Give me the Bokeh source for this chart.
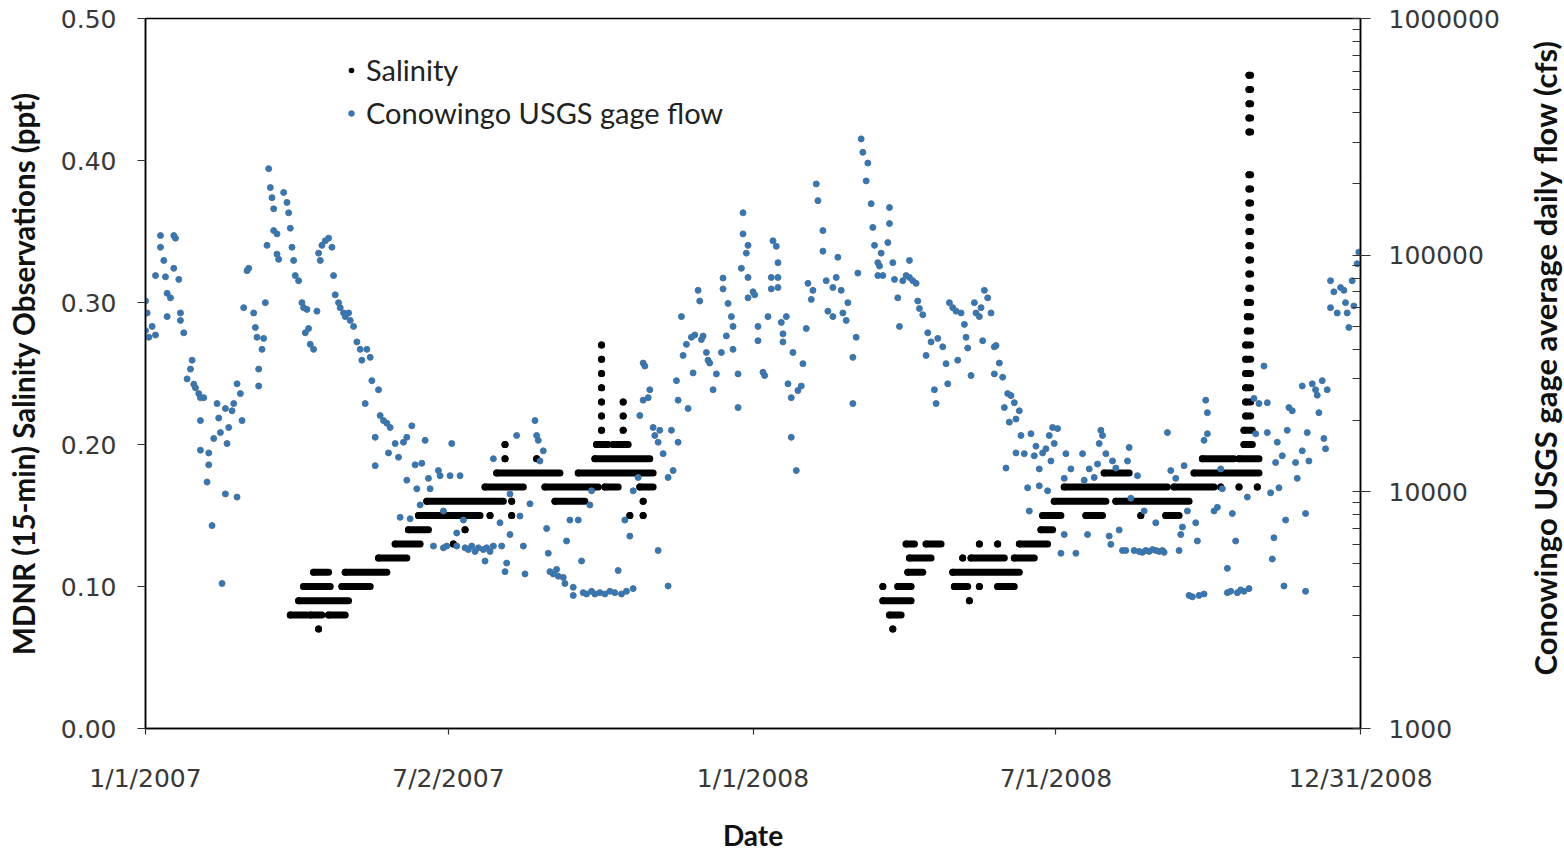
import math
from bokeh.plotting import figure
from bokeh.layouts import row
from bokeh.models import (Range1d, LogScale, LogAxis, FixedTicker, NumeralTickFormatter,
                          Legend, LegendItem, Label)
from bokeh.embed import file_html
from bokeh.resources import INLINE

# ---------------- data ----------------
# x axis: days since 1/1/2007
x_tick_days = [0, 182, 365, 547, 730]
x_tick_labels = ["1/1/2007", "7/2/2007", "1/1/2008", "7/1/2008", "12/31/2008"]
sal_ticks = [0.0, 0.1, 0.2, 0.3, 0.4, 0.5]
flow_ticks = [1000, 10000, 100000, 1000000]

# Conowingo USGS gage average daily flow (cfs)
flow_day = [
    0, 0, 1, 2, 4, 6, 6, 9, 9, 11,
    12, 13, 13, 15, 17, 17, 18, 20, 21, 21,
    23, 25, 27, 28, 29, 30, 32, 33, 33, 33,
    35, 37, 38, 38, 40, 41, 43, 44, 45, 46,
    48, 48, 49, 50, 52, 53, 55, 55, 57, 58,
    59, 61, 62, 65, 66, 67, 68, 68, 70, 71,
    72, 73, 74, 75, 76, 77, 77, 79, 79, 80,
    83, 85, 86, 87, 88, 89, 90, 92, 94, 95,
    96, 97, 98, 99, 101, 103, 104, 105, 106, 108,
    110, 112, 113, 114, 116, 117, 119, 120, 122, 123,
    125, 127, 129, 130, 132, 133, 135, 136, 138, 138,
    140, 141, 143, 145, 146, 147, 150, 152, 153, 155,
    157, 157, 159, 160, 162, 163, 165, 166, 168, 170,
    171, 173, 176, 177, 179, 179, 181, 183, 184, 187,
    187, 189, 191, 192, 194, 196, 198, 200, 203, 204,
    205, 207, 209, 209, 213, 214, 216, 217, 219, 219,
    223, 225, 227, 228, 231, 234, 235, 236, 237, 239,
    241, 242, 243, 245, 247, 248, 251, 252, 253, 255,
    257, 257, 260, 262, 263, 265, 267, 268, 268, 270,
    273, 276, 279, 282, 284, 286, 288, 289, 291, 293,
    293, 296, 297, 299, 299, 300, 302, 303, 305, 306,
    308, 308, 309, 311, 314, 314, 316, 317, 319, 320,
    320, 322, 323, 325, 326, 328, 329, 330, 332, 333,
    334, 335, 337, 338, 339, 341, 343, 346, 347, 347,
    349, 350, 352, 353, 353, 356, 356, 358, 359, 359,
    361, 362, 362, 362, 365, 366, 368, 368, 371, 372,
    374, 376, 376, 377, 379, 380, 380, 380, 382, 383,
    383, 385, 386, 388, 388, 389, 391, 392, 394, 395,
    397, 398, 400, 401, 403, 404, 407, 407, 409, 410,
    413, 413, 415, 416, 418, 419, 421, 422, 425, 425,
    427, 428, 430, 431, 433, 434, 436, 437, 438, 440,
    440, 441, 442, 443, 446, 447, 447, 449, 450, 452,
    453, 455, 457, 459, 459, 461, 463, 464, 465, 467,
    469, 470, 472, 474, 475, 476, 479, 481, 482, 483,
    485, 487, 488, 490, 492, 493, 494, 496, 498, 499,
    501, 502, 503, 504, 506, 508, 510, 510, 511, 513,
    515, 516, 517, 518, 519, 520, 522, 523, 523, 525,
    526, 528, 530, 531, 532, 534, 535, 537, 537, 539,
    541, 542, 543, 544, 545, 546, 548, 550, 552, 552,
    553, 556, 559, 563, 564, 566, 567, 570, 572, 573,
    574, 575, 577, 579, 580, 581, 583, 585, 587, 589,
    590, 591, 592, 594, 596, 597, 599, 600, 601, 603,
    605, 607, 607, 609, 611, 612, 614, 616, 619, 621,
    622, 623, 624, 626, 627, 629, 631, 632, 633, 636,
    636, 637, 638, 638, 642, 644, 646, 647, 650, 650,
    652, 653, 655, 656, 658, 660, 662, 663, 666, 667,
    669, 672, 674, 674, 676, 677, 678, 679, 680, 681,
    683, 684, 685, 686, 687, 689, 691, 692, 695, 695,
    697, 697, 698, 699, 701, 703, 704, 705, 707, 708,
    709, 710, 712, 712, 714, 716, 718, 720, 721, 722,
    723, 725, 726, 728, 729,
]
flow_cfs = [
    64000, 48000, 57000, 45000, 50000, 82000, 46000, 108000, 121000, 95000,
    81000, 69000, 55000, 66000, 121000, 88000, 118000, 79000, 57000, 53000,
    47000, 30000, 33000, 36000, 28500, 27500, 26000, 25000, 20000, 15000,
    25000, 11000, 14600, 13000, 7200, 16800, 23600, 20500, 17800, 4100,
    9800, 22500, 16000, 18700, 22000, 23600, 9500, 28600, 26000, 20000,
    60000, 86000, 88000, 57000, 49500, 45000, 33000, 28000, 40000, 44500,
    63000, 110000, 232000, 193000, 175000, 157000, 127000, 123000, 101000, 96000,
    184000, 167000, 151000, 130000, 108000, 95000, 82000, 78000, 63000, 60000,
    47000, 59000, 49000, 42000, 40000, 58000, 102000, 95000, 110000, 115000,
    118000, 108000, 82000, 68000, 63000, 60000, 57000, 55000, 57000, 53000,
    50000, 43000, 40000, 36000, 23600, 40000, 37000, 29500, 12900, 17000,
    27000, 21000, 20000, 19500, 14600, 18700, 16000, 14000, 7800, 16200,
    17000, 11200, 7700, 19000, 13000, 10300, 8800, 13200, 16500, 11400,
    10300, 5900, 12300, 11700, 5800, 8300, 5900, 11700, 16000, 6700,
    5900, 11700, 7600, 5800, 5700, 5900, 5600, 5800, 5700, 5100,
    5800, 5600, 13800, 5900, 7400, 5900, 4600, 5000, 6600, 9800,
    17300, 7900, 5900, 4500, 8900, 20000, 17300, 16500, 13500, 14900,
    7000, 5500, 4600, 4500, 4700, 4400, 4350, 4100, 6200, 7600,
    3950, 3650, 7600, 5100, 3750, 3700, 8800, 10100, 3800, 3700,
    3750, 3700, 3800, 3750, 4650, 3700, 7600, 3800, 6500, 3900,
    10100, 11500, 21000, 24400, 35000, 34000, 25000, 27000, 18700, 17300,
    5650, 16200, 18200, 14500, 4000, 11500, 18200, 12300, 29500, 24400,
    16200, 55000, 37700, 42000, 22500, 45000, 31800, 46000, 71000, 64000,
    44000, 45500, 38800, 36000, 35000, 27000, 31500, 38800, 80000, 72000,
    45600, 62500, 55000, 50000, 40000, 22700, 31500, 88000, 123000, 151000,
    102000, 80500, 66000, 110000, 70000, 68000, 50000, 43500, 32000, 31000,
    55000, 80500, 72000, 115000, 109000, 93000, 80500, 73000, 52000, 46500,
    43000, 55000, 28600, 25000, 17000, 38800, 12300, 26800, 28000, 34800,
    49000, 76000, 65000, 71000, 200000, 170000, 127000, 104000, 78000, 58000,
    55000, 73000, 80500, 98000, 71000, 57000, 53000, 63000, 37000, 23600,
    45000, 84000, 310000, 272000, 206000, 245000, 165000, 131000, 110000, 93000,
    82000, 90000, 102000, 82000, 113000, 159000, 136000, 93000, 79000, 66000,
    50000, 78000, 82000, 95000, 80500, 78000, 76000, 64000, 59500, 56000,
    37700, 47000, 43000, 27000, 23600, 44500, 41000, 34800, 28600, 63000,
    60000, 58000, 36000, 57000, 51000, 45000, 40500, 31000, 63000, 57000,
    55000, 60000, 43500, 71000, 66000, 57000, 41000, 31500, 41500, 35000,
    30500, 22700, 12600, 26000, 19700, 25500, 23800, 20300, 14600, 22000,
    17300, 14500, 10400, 8300, 17600, 14200, 15600, 12500, 10600, 14600,
    15200, 10100, 17300, 13500, 18700, 16000, 18500, 5500, 11400, 6600,
    14500, 12500, 5500, 14500, 11200, 6600, 12500, 11500, 13100, 16000,
    18200, 17300, 14500, 6500, 6000, 13500, 12600, 6900, 5650, 5650,
    13500, 15400, 9400, 5650, 11700, 5600, 5550, 8300, 5650, 5600,
    5700, 7400, 5650, 5600, 5650, 5550, 17800, 12300, 11400, 5650,
    6600, 7100, 12900, 8300, 3650, 3600, 7400, 6200, 3650, 16500,
    3700, 24400, 21600, 17600, 8300, 8600, 12500, 10300, 4750, 3750,
    3800, 8100, 6200, 3750, 3850, 3800, 9500, 3900, 24800, 17600,
    23600, 34000, 23800, 17800, 9900, 5200, 6400, 13300, 16200, 10400,
    14200, 4000, 7600, 18200, 22700, 22000, 13300, 11400, 14900, 28000,
    8100, 3800, 17800, 13500, 28600, 27000, 25600, 21600, 29500, 16800,
    15200, 27000, 78000, 60000, 70000, 57000, 73000, 71000, 63000, 57000,
    49500, 78000, 61000, 92000, 103000,
]
assert len(flow_day) == len(flow_cfs)

# MDNR 15-min salinity observations (ppt): runs of identical readings
# (first day, last day, value)
sal_start = [
    104, 87, 99, 110, 92, 95, 118, 101, 120, 140,
    150, 185, 158, 192, 164, 207, 220, 291, 299, 169,
    220, 246, 299, 204, 240, 276, 297, 211, 260, 216,
    235, 270, 216, 271, 281, 274, 287, 274, 287, 274,
    287, 274, 274, 274, 274,
    449, 447, 443, 495, 443, 452, 486, 501, 512, 458,
    485, 459, 491, 496, 522, 457, 469, 501, 512, 525,
    538, 539, 565, 598, 613, 546, 583, 552, 618, 646,
    657, 668, 576, 630, 635, 657,
    660, 660, 661, 661, 661, 661, 661, 661, 662, 662,
    662, 663, 663, 663, 663, 663, 663, 663, 663, 663,
    663, 663, 663, 663, 663,
]
sal_end = [
    104, 97, 106, 120, 122, 111, 135, 110, 145, 157,
    165, 185, 170, 192, 201, 207, 220, 291, 299, 215,
    220, 264, 299, 227, 272, 284, 305, 249, 305, 216,
    235, 303, 216, 278, 290, 274, 287, 274, 287, 274,
    287, 274, 274, 274, 274,
    449, 454, 460, 495, 443, 460, 494, 501, 522, 467,
    525, 472, 491, 516, 534, 462, 478, 501, 512, 542,
    545, 550, 575, 598, 621, 577, 627, 614, 642, 646,
    657, 668, 591, 669, 654, 669,
    665, 665, 664, 664, 664, 664, 664, 664, 664, 664,
    664, 664, 664, 664, 664, 664, 664, 664, 664, 664,
    664, 664, 664, 664, 664,
]
sal_ppt = [
    0.07, 0.08, 0.08, 0.08, 0.09, 0.10, 0.10, 0.11, 0.11, 0.12,
    0.13, 0.13, 0.14, 0.14, 0.15, 0.15, 0.15, 0.15, 0.15, 0.16,
    0.16, 0.16, 0.16, 0.17, 0.17, 0.17, 0.17, 0.18, 0.18, 0.19,
    0.19, 0.19, 0.20, 0.20, 0.20, 0.21, 0.21, 0.22, 0.22, 0.23,
    0.23, 0.24, 0.25, 0.26, 0.27,
    0.07, 0.08, 0.09, 0.09, 0.10, 0.10, 0.10, 0.10, 0.10, 0.11,
    0.11, 0.12, 0.12, 0.12, 0.12, 0.13, 0.13, 0.13, 0.13, 0.13,
    0.14, 0.15, 0.15, 0.15, 0.15, 0.16, 0.16, 0.17, 0.17, 0.17,
    0.17, 0.17, 0.18, 0.18, 0.19, 0.19,
    0.20, 0.21, 0.22, 0.23, 0.24, 0.25, 0.26, 0.27, 0.28, 0.29,
    0.30, 0.31, 0.32, 0.33, 0.34, 0.35, 0.36, 0.37, 0.38, 0.39,
    0.42, 0.43, 0.44, 0.45, 0.46,
]
assert len(sal_start) == len(sal_end) == len(sal_ppt)

# ---------------- figure ----------------
TICK_FONT = "DejaVu Sans"
TITLE_FONT = "Lato"

p = figure(width=1504, height=854, output_backend="svg", toolbar_location=None,
           x_range=Range1d(0, 730), y_range=Range1d(0, 0.5),
           min_border_left=145, min_border_right=144,
           min_border_top=18, min_border_bottom=126)
p.background_fill_color = "white"
p.border_fill_color = "white"
p.outline_line_color = "black"
p.outline_line_width = 1.5
p.xgrid.grid_line_color = None
p.ygrid.grid_line_color = None

p.extra_y_ranges = {"flow": Range1d(1000, 1000000)}
p.extra_y_scales = {"flow": LogScale()}

# salinity runs (drawn first, flow is on the secondary axis and drawn on top)
p.segment(x0=sal_start, y0=sal_ppt, x1=sal_end, y1=sal_ppt,
          line_color="black", line_width=7, line_cap="round")
sal_dots = p.scatter(x=sal_start, y=sal_ppt, size=7,
                     fill_color="black", line_color="black", line_width=0)

flow_r = p.scatter(x=flow_day, y=flow_cfs, y_range_name="flow", size=6,
                   fill_color="#2F78BD", line_color="#4F7391", line_width=1)

# left axis
ax = p.yaxis[0]
ax.ticker = FixedTicker(ticks=sal_ticks)
ax.formatter = NumeralTickFormatter(format="0.00")
ax.axis_label = "MDNR (15-min) Salinity Observations (ppt)"

# bottom axis
bx = p.xaxis[0]
bx.ticker = FixedTicker(ticks=x_tick_days)
bx.major_label_overrides = {d: l for d, l in zip(x_tick_days, x_tick_labels)}
bx.axis_label = "Date"

# right log axis
minor = [m * 10 ** e for e in (3, 4, 5) for m in range(2, 10)]
rx = LogAxis(y_range_name="flow",
             ticker=FixedTicker(ticks=flow_ticks, minor_ticks=minor),
             formatter=NumeralTickFormatter(format="0"))
p.add_layout(rx, "right")

for a in (ax, bx, rx):
    a.axis_line_color = "black"
    a.axis_line_width = 1.5
    a.major_tick_line_color = "#333333"
    a.major_tick_line_width = 1.2
    a.minor_tick_line_color = None
    a.major_label_text_font = TICK_FONT
    a.major_label_text_font_size = "25px"
    a.major_label_text_color = "#383838"
    a.axis_label_text_font = TITLE_FONT
    a.axis_label_text_font_style = "bold"
    a.axis_label_text_color = "#111111"

ax.axis_label_text_font_size = "29.5px"
bx.axis_label_text_font_size = "28px"

ax.major_tick_in = 0
ax.major_tick_out = 8
ax.major_label_standoff = 21
ax.axis_label_standoff = 17

bx.major_tick_in = 0
bx.major_tick_out = 6
bx.major_label_standoff = 29
bx.axis_label_standoff = 22

rx.major_tick_in = 8
rx.major_tick_out = 10
rx.minor_tick_line_color = "#333333"
rx.minor_tick_in = 8
rx.minor_tick_out = 0
rx.major_label_standoff = 18

legend = Legend(items=[LegendItem(label="Salinity", renderers=[sal_dots]),
                       LegendItem(label="Conowingo USGS gage flow", renderers=[flow_r])],
                location=(199, 598))
legend.border_line_color = None
legend.background_fill_alpha = 0
legend.label_text_font = TITLE_FONT
legend.label_text_font_size = "29px"
legend.label_text_color = "#222222"
legend.glyph_width = 14
legend.glyph_height = 20
legend.label_height = 20
legend.spacing = 8
legend.padding = 0
legend.margin = 0
legend.label_standoff = 8
p.add_layout(legend)

# narrow strip on the right carrying the secondary-axis title (reads bottom-to-top);
# its frame is aligned with the main plot's frame by the row layout
t = figure(width=60, height=854, output_backend="svg", toolbar_location=None,
           x_range=Range1d(0, 1), y_range=Range1d(0, 1),
           x_axis_location=None, y_axis_location=None, min_border=0)
t.min_border_left = 0
t.min_border_right = 0
t.min_border_top = 0
t.min_border_bottom = 0
t.outline_line_color = None
t.background_fill_color = "white"
t.border_fill_color = "white"
t.xgrid.grid_line_color = None
t.ygrid.grid_line_color = None
t.add_layout(Label(x=40, y=371, x_units="screen", y_units="screen",
                   text="Conowingo USGS gage average daily flow (cfs)",
                   angle=math.pi / 2, text_align="center", text_baseline="middle",
                   text_font=TITLE_FONT, text_font_style="bold",
                   text_font_size="31px", text_color="#111111"))

layout = row(p, t, spacing=0)
open("out.html", "w").write(file_html(layout, INLINE))
